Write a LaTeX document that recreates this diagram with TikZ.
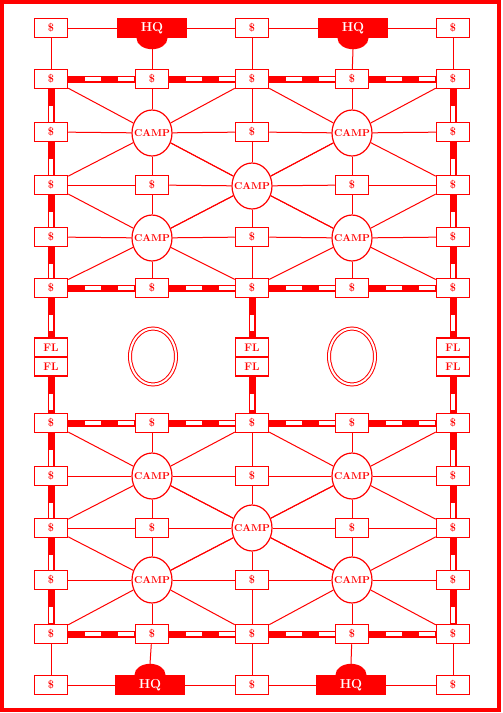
\documentclass[tikz,border=0pt]{standalone}
\usetikzlibrary{shapes.geometric}
\pgfdeclarelayer{bg}
\pgfsetlayers{bg,main}
\newcommand{\campword}{\makebox[0pt]{CAMP}}
\tikzset{
  box/.style={draw=red, fill=white, line width=1.5pt, minimum width=33pt, minimum height=19pt, inner sep=0pt, text=red, font=\fontsize{11}{11}\selectfont\bfseries},
  camp/.style={ellipse, draw=red, fill=white, line width=1.2pt, minimum width=40pt, minimum height=46pt, inner sep=0pt, text=red, font=\fontsize{10}{10}\selectfont\bfseries},
  hq/.style={fill=red, minimum width=70pt, minimum height=20pt, inner sep=0pt, text=white, font=\fontsize{13}{13}\selectfont\bfseries},
  wire/.style={draw=red, line width=1pt},
  railred/.style={draw=red, line width=7pt},
  railwhite/.style={draw=white, line width=3.5pt, dash pattern=on 16pt off 17pt, dash phase=16pt},
  pond/.style={ellipse, draw=red, double=white, double distance=2pt, line width=1pt, minimum width=46pt, minimum height=56pt, inner sep=0pt},
  frame/.style={draw=red, line width=4pt, minimum width=497pt, minimum height=708pt, inner sep=0pt},
}
\begin{document}
\begin{tikzpicture}[x=1pt,y=-1pt]
\useasboundingbox (0,0) rectangle (503,713);
\node[frame] (border) at (250.5,356) {};
% row 0
\node[box] (n0-0) at (51,28) {\$};
\node[hq]  (n1-0) at (152,28) {HQ};
\node[box] (n2-0) at (252,28) {\$};
\node[hq]  (n3-0) at (353,28) {HQ};
\node[box] (n4-0) at (453,28) {\$};
% row 1
\node[box] (n0-1) at (51,79) {\$};
\node[box] (n1-1) at (152,79) {\$};
\node[box] (n2-1) at (252,79) {\$};
\node[box] (n3-1) at (352,79) {\$};
\node[box] (n4-1) at (453,79) {\$};
% row 2
\node[box]  (n0-2) at (51,132) {\$};
\node[camp] (n1-2) at (152,133) {\campword};
\node[box]  (n2-2) at (252,132) {\$};
\node[camp] (n3-2) at (352,133) {\campword};
\node[box]  (n4-2) at (453,132) {\$};
% row 3
\node[box]  (n0-3) at (51,185) {\$};
\node[box]  (n1-3) at (152,185) {\$};
\node[camp] (n2-3) at (252,186) {\campword};
\node[box]  (n3-3) at (352,185) {\$};
\node[box]  (n4-3) at (453,185) {\$};
% row 4
\node[box]  (n0-4) at (51,237) {\$};
\node[camp] (n1-4) at (152,238) {\campword};
\node[box]  (n2-4) at (252,237) {\$};
\node[camp] (n3-4) at (352,238) {\campword};
\node[box]  (n4-4) at (453,237) {\$};
% row 5
\node[box] (n0-5) at (51,288) {\$};
\node[box] (n1-5) at (152,288) {\$};
\node[box] (n2-5) at (252,288) {\$};
\node[box] (n3-5) at (352,288) {\$};
\node[box] (n4-5) at (453,288) {\$};
% FL
\node[box] (fa0) at (51,347.5) {FL};
\node[box] (fb0) at (51,366.5) {FL};
\node[box] (fa2) at (252,347.5) {FL};
\node[box] (fb2) at (252,366.5) {FL};
\node[box] (fa4) at (453,347.5) {FL};
\node[box] (fb4) at (453,366.5) {FL};
\node[pond] (p1) at (153,356.5) {};
\node[pond] (p3) at (352,356.5) {};
% row 6
\node[box] (n0-6) at (51,423) {\$};
\node[box] (n1-6) at (152,423) {\$};
\node[box] (n2-6) at (252,423) {\$};
\node[box] (n3-6) at (352,423) {\$};
\node[box] (n4-6) at (453,423) {\$};
% row 7
\node[box]  (n0-7) at (51,476) {\$};
\node[camp] (n1-7) at (152,476) {\campword};
\node[box]  (n2-7) at (252,476) {\$};
\node[camp] (n3-7) at (352,476) {\campword};
\node[box]  (n4-7) at (453,476) {\$};
% row 8
\node[box]  (n0-8) at (51,528) {\$};
\node[box]  (n1-8) at (152,528) {\$};
\node[camp] (n2-8) at (252,528) {\campword};
\node[box]  (n3-8) at (352,528) {\$};
\node[box]  (n4-8) at (453,528) {\$};
% row 9
\node[box]  (n0-9) at (51,580) {\$};
\node[camp] (n1-9) at (152,580) {\campword};
\node[box]  (n2-9) at (252,580) {\$};
\node[camp] (n3-9) at (352,580) {\campword};
\node[box]  (n4-9) at (453,580) {\$};
% row 10
\node[box] (n0-10) at (51,634) {\$};
\node[box] (n1-10) at (152,634) {\$};
\node[box] (n2-10) at (252,634) {\$};
\node[box] (n3-10) at (352,634) {\$};
\node[box] (n4-10) at (453,634) {\$};
% row 11
\node[box] (n0-11) at (51,685) {\$};
\node[hq]  (n1-11) at (150,685) {HQ};
\node[box] (n2-11) at (252,685) {\$};
\node[hq]  (n3-11) at (351,685) {HQ};
\node[box] (n4-11) at (453,685) {\$};
% HQ tips
\coordinate (t1-0) at ([yshift=-11pt]n1-0.south);
\coordinate (t3-0) at ([yshift=-11pt]n3-0.south);
\coordinate (t1-11) at ([yshift=11pt]n1-11.north);
\coordinate (t3-11) at ([yshift=11pt]n3-11.north);
\begin{pgfonlayer}{bg}
  \fill[red] (n1-0.south) ellipse [x radius=15.5pt, y radius=11pt];
  \fill[red] (n3-0.south) ellipse [x radius=15.5pt, y radius=11pt];
  \fill[red] (n1-11.north) ellipse [x radius=15.5pt, y radius=11pt];
  \fill[red] (n3-11.north) ellipse [x radius=15.5pt, y radius=11pt];
  % thin horizontals
  \foreach \ri in {0,2,3,4,7,8,9,11}{
    \foreach \ci in {0,1,2,3}{
      \pgfmathtruncatemacro{\dn}{\ci+1}
      \draw[wire] (n\ci-\ri) -- (n\dn-\ri);
    }
  }
  % rail horizontals
  \foreach \ri in {1,5,6,10}{
    \foreach \ci in {0,1,2,3}{
      \pgfmathtruncatemacro{\dn}{\ci+1}
      \draw[railred] (n\ci-\ri) -- (n\dn-\ri);
      \draw[railwhite] (n\ci-\ri) -- (n\dn-\ri);
    }
  }
  % top and bottom short verticals
  \foreach \ci in {0,2,4}{
    \draw[wire] (n\ci-0) -- (n\ci-1);
    \draw[wire] (n\ci-10) -- (n\ci-11);
  }
  \foreach \ci in {1,3}{
    \draw[wire] (t\ci-0) -- (n\ci-1);
    \draw[wire] (n\ci-10) -- (t\ci-11);
  }
  % inner thin verticals
  \foreach \ci in {1,2,3}{
    \foreach \ri in {1,2,3,4,6,7,8,9}{
      \pgfmathtruncatemacro{\dn}{\ri+1}
      \draw[wire] (n\ci-\ri) -- (n\ci-\dn);
    }
  }
  % rail verticals
  \foreach \ci in {0,4}{
    \foreach \ri in {1,2,3,4,6,7,8,9}{
      \pgfmathtruncatemacro{\dn}{\ri+1}
      \draw[railred] (n\ci-\ri) -- (n\ci-\dn);
      \draw[railwhite] (n\ci-\ri) -- (n\ci-\dn);
    }
  }
  \foreach \ci in {0,2,4}{
    \draw[railred] (n\ci-5) -- (fa\ci);
    \draw[railwhite] (n\ci-5) -- (fa\ci);
    \draw[railred] (fb\ci) -- (n\ci-6);
    \draw[railwhite] (fb\ci) -- (n\ci-6);
  }
  % camp diagonals
  \foreach \ci/\ri in {1/2,3/2,2/3,1/4,3/4,1/7,3/7,2/8,1/9,3/9}{
    \foreach \dc/\dr in {-1/-1,1/-1,-1/1,1/1}{
      \pgfmathtruncatemacro{\cn}{\ci+\dc}
      \pgfmathtruncatemacro{\rn}{\ri+\dr}
      \draw[wire] (n\ci-\ri) -- (n\cn-\rn);
    }
  }
\end{pgfonlayer}
\end{tikzpicture}
\end{document}
